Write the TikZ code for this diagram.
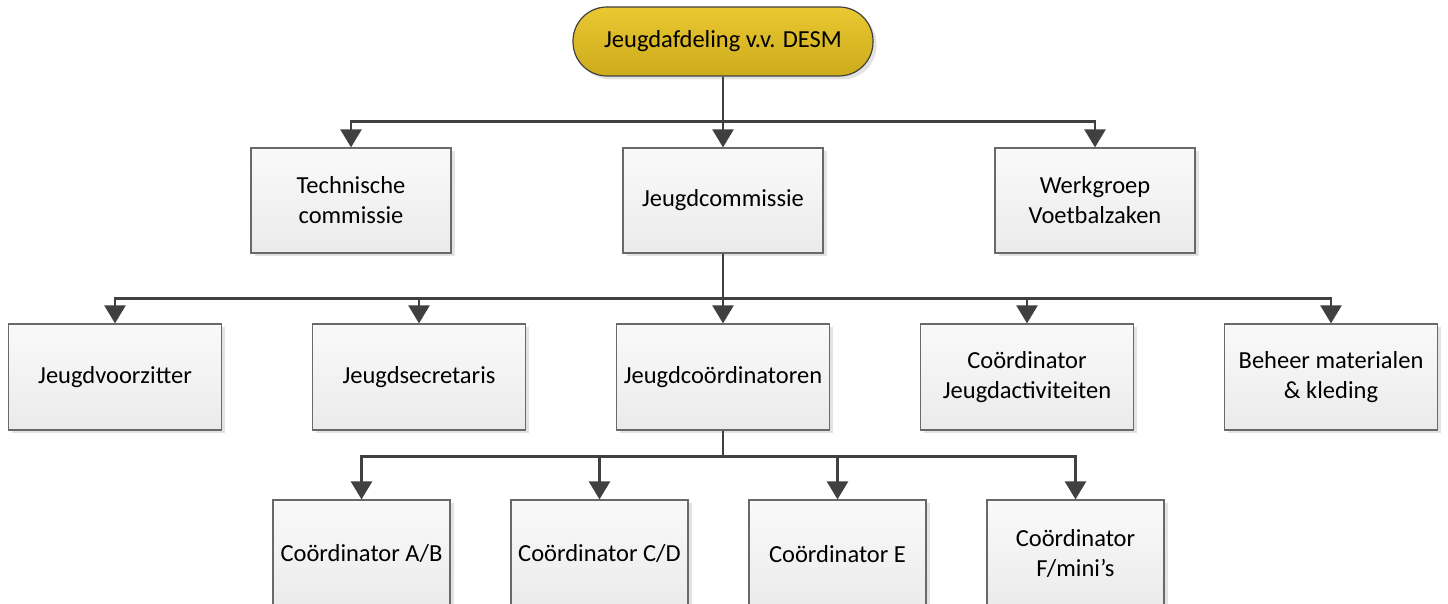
\documentclass[tikz,border=0pt]{standalone}
\usepackage{fontspec}
\setmainfont{Carlito}
\usetikzlibrary{trees,shadows,arrows.meta}
\definecolor{linkgray}{RGB}{64,64,64}
\definecolor{framegray}{RGB}{105,105,105}
\definecolor{goldtop}{RGB}{233,200,50}
\definecolor{goldbot}{RGB}{205,171,28}
\tikzset{
  lift/.style={drop shadow={shadow xshift=3.5pt,shadow yshift=-3.5pt,fill=black!11,opacity=1}},
  club/.style={draw=linkgray,line width=1.2pt,rounded corners=34pt,minimum width=300pt,minimum height=69pt,
    top color=goldtop,bottom color=goldbot,lift,font=\fontsize{24.5}{30}\selectfont},
  unit/.style={draw=framegray,line width=1.2pt,minimum height=105pt,inner sep=2pt,align=center,
    top color=white!98!black,bottom color=black!8,lift,font=\fontsize{24.5}{30}\selectfont},
  commission/.style={unit,minimum width=200pt},
  post/.style={unit,minimum width=213pt,minimum height=106pt},
  coordbox/.style={unit,minimum width=177pt,minimum height=108pt,xshift=-4.5pt},
  edge from parent/.style={draw=linkgray,line width=2.6pt,-{Triangle[width=21pt,length=18pt]}}
}
\begin{document}
\begin{tikzpicture}[
  x=1pt,y=1pt,
  grow=down,
  edge from parent path={(\tikzparentnode.south) -- ++(0,-45pt) -| (\tikzchildnode.north)},
  level 1/.style={sibling distance=372pt,level distance=159pt},
  level 2/.style={sibling distance=304pt,level distance=176.5pt},
  level 3/.style={sibling distance=238pt,level distance=177pt,
    edge from parent path={(\tikzparentnode.south) -- ++(0,-26pt) -| (\tikzchildnode.north)}}
]
  \useasboundingbox (0,0) rectangle (1448,604);
  \node[club] (desm) at (723,562.5) {Jeugdafdeling v.v. DESM}
    child {node[commission] (tc) {Technische\\commissie}}
    child {
      node[commission] (jc) {Jeugdcommissie}
      child {node[post] (jv) {Jeugdvoorzitter}}
      child {node[post] (js) {Jeugdsecretaris}}
      child {
        node[post] (jco) {Jeugdcoördinatoren}
        child {node[coordbox] (cab) {Coördinator A/B}}
        child {node[coordbox] (ccd) {Coördinator C/D}}
        child {node[coordbox] (ce) {Coördinator E}}
        child {node[coordbox] (cf) {Coördinator\\F/mini’s}}
      }
      child {node[post] (cja) {Coördinator\\Jeugdactiviteiten}}
      child {node[post] (bmk) {Beheer materialen\\\& kleding}}
    }
    child {node[commission] (wv) {Werkgroep\\Voetbalzaken}};
\end{tikzpicture}
\end{document}
